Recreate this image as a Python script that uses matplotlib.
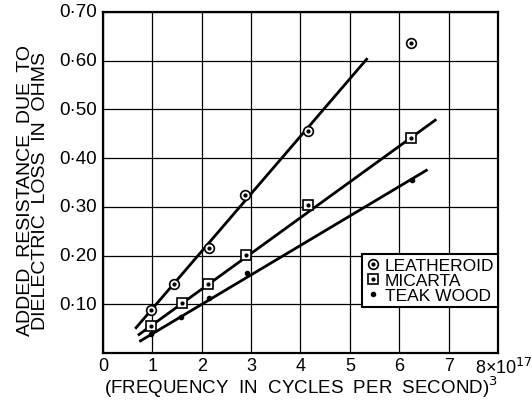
import matplotlib
matplotlib.use("Agg")
import matplotlib.pyplot as plt
from matplotlib.lines import Line2D

# Data (x in units of 10^17 (c/s)^3, y in ohms)
leath_x = [0.97, 1.44, 2.15, 2.88, 4.16, 6.23]
leath_y = [0.089, 0.142, 0.216, 0.324, 0.456, 0.636]
mic_x = [0.98, 1.61, 2.13, 2.89, 4.16, 6.23]
mic_y = [0.056, 0.103, 0.142, 0.202, 0.304, 0.441]
teak_x = [0.98, 1.59, 2.15, 2.92, 6.25]
teak_y = [0.040, 0.074, 0.112, 0.165, 0.356]

# Fitted straight lines (end points)
leath_line_x = [0.67, 5.34]
leath_line_y = [0.052, 0.603]
mic_line_x = [0.73, 6.73]
mic_line_y = [0.038, 0.478]
teak_line_x = [0.76, 6.55]
teak_line_y = [0.025, 0.375]

xticks = [0, 1, 2, 3, 4, 5, 6, 7, 8]
xticklabels = ["0", "1", "2", "3", "4", "5", "6", "7", r"8×10$^{17}$"]
yticks = [0.0, 0.1, 0.2, 0.3, 0.4, 0.5, 0.6, 0.7]
yticklabels = ["", "0·10", "0·20", "0·30", "0·40", "0·50", "0·60", "0·70"]

plt.rcParams['font.family'] = ['Liberation Sans', 'DejaVu Sans']

fig = plt.figure(figsize=(5.32, 4.06), dpi=100)
ax = fig.add_axes([0.1936, 0.128, 0.7424, 0.840])
ax.set_xlim(0, 8)
ax.set_ylim(0, 0.70)

ax.set_xticks(xticks)
ax.set_yticks(yticks)
ax.grid(True, color='black', linewidth=0.9)
ax.set_axisbelow(True)
for s in ax.spines.values():
    s.set_linewidth(1.6)
ax.tick_params(length=0, pad=5)
ax.set_xticklabels([])
ax.set_yticklabels([])

for x, lab in zip(xticks, xticklabels):
    if x == 8:
        ax.text(x + 0.12, -0.008, lab, ha='center', va='top', fontsize=13, clip_on=False)
    else:
        ax.text(x, -0.008, lab, ha='center', va='top', fontsize=13, clip_on=False)
for y, lab in zip(yticks, yticklabels):
    ax.text(-0.12, y, lab, ha='right', va='center', fontsize=13.5, clip_on=False)

lw = 2.0
ax.plot(leath_line_x, leath_line_y, color='black', lw=lw)
ax.plot(mic_line_x, mic_line_y, color='black', lw=lw)
ax.plot(teak_line_x, teak_line_y, color='black', lw=lw)

ax.plot(leath_x, leath_y, 'o', ms=7, mfc='white', mec='black', mew=1.2)
ax.plot(leath_x, leath_y, '.', ms=4, color='black')
ax.plot(mic_x, mic_y, 's', ms=7, mfc='white', mec='black', mew=1.2)
ax.plot(mic_x, mic_y, '.', ms=4, color='black')
ax.plot(teak_x, teak_y, '.', ms=6, color='black')

# Legend
handles = [
    (Line2D([], [], ls='', marker='o', ms=7, mfc='white', mec='black', mew=1.2),
     Line2D([], [], ls='', marker='.', ms=4, color='black')),
    (Line2D([], [], ls='', marker='s', ms=7, mfc='white', mec='black', mew=1.2),
     Line2D([], [], ls='', marker='.', ms=4, color='black')),
    Line2D([], [], ls='', marker='.', ms=6, color='black'),
]
leg = ax.legend(handles, ["LEATHEROID", "MICARTA", "TEAK WOOD"],
                loc='upper right', bbox_to_anchor=(1.0, 0.29),
                fontsize=12.5, frameon=True, fancybox=False,
                edgecolor='black', framealpha=1, borderpad=0.2,
                labelspacing=0.0, handlelength=0.8, handletextpad=0.3,
                borderaxespad=0)
leg.get_frame().set_linewidth(1.5)

fig.text(0.062, 0.53, "ADDED  RESISTANCE  DUE  TO\nDIELECTRIC  LOSS  IN  OHMS",
         rotation=90, ha='center', va='center', fontsize=14, linespacing=0.9)
fig.text(0.565, 0.045, r"(FREQUENCY  IN  CYCLES  PER  SECOND)$^3$",
         ha='center', va='center', fontsize=13.5)

fig.savefig("out.png", dpi=100)
